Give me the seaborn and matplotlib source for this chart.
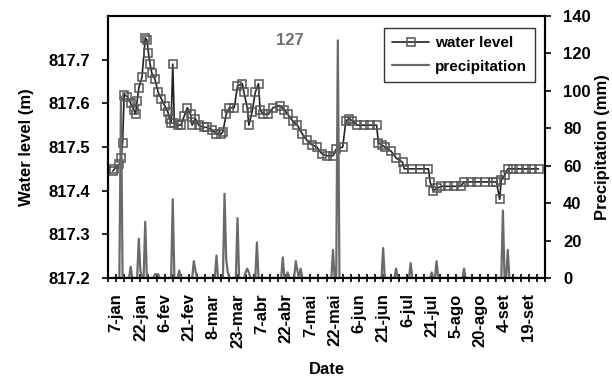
import numpy as np
import pandas as pd
import matplotlib
matplotlib.use("Agg")
import matplotlib.pyplot as plt
import seaborn as sns

# ---- data (day of year 2010) ----
wl_day = [5, 6, 9, 10, 11, 12, 14, 16, 18, 19, 20, 21, 23, 25, 26, 27, 28, 29, 31, 33,
          35, 37, 39, 40, 41, 42, 43, 45, 47, 49, 51, 53, 54, 56, 58, 61, 63, 66, 69, 72,
          73, 75, 77, 80, 82, 85, 86, 88, 89, 91, 93, 95, 96, 98, 101, 104, 108, 111, 113, 116,
          119, 122, 125, 128, 131, 134, 137, 141, 143, 147, 149, 151, 153, 156, 160, 164, 168, 169, 171, 173,
          177, 180, 184, 185, 190, 195, 200, 201, 203, 205, 208, 212, 216, 220, 222, 226, 230, 235, 240, 242,
          244, 245, 247, 249, 252, 256, 260, 264, 268]
wl_level = [817.445, 817.45, 817.46, 817.475, 817.51, 817.62, 817.615, 817.60, 817.585, 817.575,
            817.605, 817.635, 817.66, 817.75, 817.745, 817.715, 817.69, 817.67, 817.655, 817.625,
            817.61, 817.595, 817.58, 817.565, 817.555, 817.69, 817.555, 817.55, 817.55, 817.57,
            817.59, 817.575, 817.55, 817.565, 817.55, 817.545, 817.545, 817.54, 817.53, 817.53,
            817.535, 817.575, 817.59, 817.59, 817.64, 817.645, 817.625, 817.59, 817.55, 817.58,
            817.625, 817.645, 817.585, 817.575, 817.575, 817.59, 817.595, 817.585, 817.575, 817.56,
            817.55, 817.53, 817.515, 817.505, 817.50, 817.485, 817.48, 817.48, 817.495, 817.50,
            817.56, 817.565, 817.56, 817.55, 817.55, 817.55, 817.55, 817.51, 817.505, 817.50,
            817.49, 817.475, 817.465, 817.45, 817.45, 817.45, 817.45, 817.42, 817.40, 817.405,
            817.41, 817.41, 817.41, 817.41, 817.42, 817.42, 817.42, 817.42, 817.42, 817.42,
            817.38, 817.425, 817.435, 817.45, 817.45, 817.45, 817.45, 817.45, 817.45]

rain_day = [10, 16, 21, 22, 25, 31, 32, 33, 42, 46, 55, 56, 69, 74, 75, 76, 82, 87, 88, 89,
            94, 110, 113, 118, 119, 121, 141, 144, 172, 180, 189, 202, 205, 222, 246, 249]
rain_mm = [97, 6, 21, 4, 30, 2, 2, 2, 42, 4, 9, 4, 12, 45, 10, 3, 32, 3, 5, 3,
           19, 11, 3, 9, 4, 5, 15, 127, 16, 5, 8, 3, 9, 5, 36, 15]
rain_first_day, rain_last_day = 5, 268

xtick_labels = ['7-jan', '22-jan', '6-fev', '21-fev', '8-mar', '23-mar', '7-abr', '22-abr',
                '7-mai', '22-mai', '6-jun', '21-jun', '6-jul', '21-jul', '5-ago', '20-ago',
                '4-set', '19-set']

# ---- build frames ----
base = pd.Timestamp('2010-01-01')
wl = pd.DataFrame({'date': [base + pd.Timedelta(days=d - 1) for d in wl_day],
                   'level': wl_level})
days = np.arange(rain_first_day, rain_last_day + 1)
rain_map = dict(zip(rain_day, rain_mm))
rain = pd.DataFrame({'date': [base + pd.Timedelta(days=int(d) - 1) for d in days],
                     'mm': [rain_map.get(int(d), 0) for d in days]})

sns.set_style("ticks")
plt.rcParams['font.family'] = ['Liberation Sans', 'DejaVu Sans']
plt.rcParams['font.weight'] = 'bold'
plt.rcParams['text.color'] = 'black'
plt.rcParams['axes.labelcolor'] = 'black'
plt.rcParams['xtick.color'] = 'black'
plt.rcParams['ytick.color'] = 'black'

fig = plt.figure(figsize=(6.12, 3.78), dpi=100)
ax = fig.add_axes([0.1765, 0.2646, 0.714, 0.693])
ax2 = ax.twinx()

sns.lineplot(data=rain, x='date', y='mm', ax=ax2, color='#6a6a6a', linewidth=1.6,
             label='precipitation', legend=False)
sns.lineplot(data=wl, x='date', y='level', ax=ax, color='#222222', linewidth=1.2,
             marker='s', markersize=5.5, markerfacecolor='none',
             markeredgecolor='#555555', markeredgewidth=1.1,
             label='water level', legend=False)

x0 = base + pd.Timedelta(days=3.9)
x1 = base + pd.Timedelta(days=268.3)
ax.set_xlim(x0, x1)
ax.set_ylim(817.2, 817.8)
ax2.set_ylim(0, 140)

ax.set_yticks([817.2, 817.3, 817.4, 817.5, 817.6, 817.7])
ax.set_yticklabels(['817.2', '817.3', '817.4', '817.5', '817.6', '817.7'])
ax2.set_yticks(np.arange(0, 141, 20))

major = pd.date_range('2010-01-07', periods=len(xtick_labels), freq='15D')
minor = pd.date_range('2010-01-02', '2010-09-30', freq='5D')
ax.set_xticks(major)
ax.set_xticklabels(xtick_labels, rotation=90)
ax.set_xticks(minor, minor=True)

for a in (ax, ax2):
    a.tick_params(axis='both', which='both', labelsize=12, width=1.2, length=4,
                  color='black', labelcolor='black')
    for s in a.spines.values():
        s.set_visible(True)
        s.set_linewidth(1.5)
        s.set_color('black')
ax.tick_params(axis='x', which='both', direction='inout', length=6, pad=8)
ax.tick_params(axis='y', pad=9)
ax2.tick_params(axis='y', pad=9)

for lab in ax.get_xticklabels() + ax.get_yticklabels() + ax2.get_yticklabels():
    lab.set_fontweight('bold')

ax.set_xlabel('Date', fontsize=12, fontweight='bold', labelpad=10, color='black')
ax.set_ylabel('Water level (m)', fontsize=12, fontweight='bold', labelpad=10, color='black')
ax2.set_ylabel('Precipitation (mm)', fontsize=12, fontweight='bold', labelpad=3, color='black')
ax.grid(False)
ax2.grid(False)

ax2.text(0.416, 0.905, '127', transform=ax.transAxes, ha='center', va='center',
         fontsize=12, fontweight='bold', color='#707070')

h1, l1 = ax.get_legend_handles_labels()
h2, l2 = ax2.get_legend_handles_labels()
leg = ax2.legend(h1 + h2, l1 + l2, loc='upper right', bbox_to_anchor=(0.978, 0.954),
                 borderaxespad=0.0, frameon=True, fancybox=False, edgecolor='black',
                 fontsize=11, borderpad=0.55, handlelength=2.4, labelspacing=0.6,
                 handletextpad=0.4)
leg.get_frame().set_linewidth(1.0)
for t in leg.get_texts():
    t.set_fontweight('bold')
    t.set_color('black')

fig.savefig('out.png', dpi=100)
